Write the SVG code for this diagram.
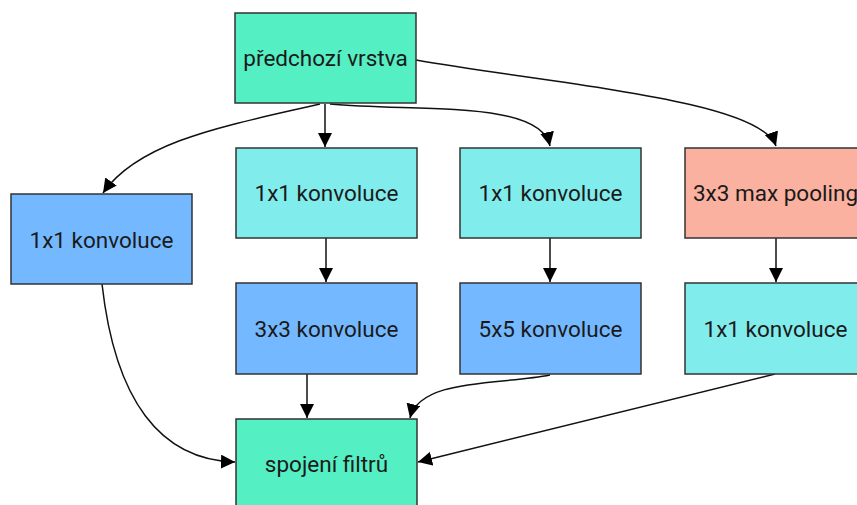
<svg xmlns="http://www.w3.org/2000/svg" width="857" height="505" viewBox="0 0 857 505">
  <style>
    .box { stroke: #333; stroke-width: 1.5; }
    .mint { fill: #55efc4; }
    .cyan { fill: #81ecec; }
    .blue { fill: #74b9ff; }
    .salmon { fill: #fab1a0; }
    .label { font-family: Roboto, "Liberation Sans", sans-serif; font-size: 22.5px; fill: #1a1a1a; text-anchor: middle; dominant-baseline: central; }
    .edge { fill: none; stroke: #111; stroke-width: 1.5; marker-end: url(#arrow); }
  </style>
  <defs>
    <marker id="arrow" viewBox="0 0 10 10" refX="10" refY="5" markerWidth="14" markerHeight="14" markerUnits="userSpaceOnUse" orient="auto">
      <path d="M0,0 L10,5 L0,10 z" fill="#000"/>
    </marker>
  </defs>
  <rect width="857" height="505" fill="#fff"/>

  <g id="edges">
    <path class="edge" d="M320,104 C230,125 140,140 103,193"/>
    <path class="edge" d="M325,104 L325,147"/>
    <path class="edge" d="M330,104 C420,112 540,100 550,146"/>
    <path class="edge" d="M416,60 C560,85 760,100 776,146"/>
    <path class="edge" d="M326,238 L326,282"/>
    <path class="edge" d="M550,238 L550,282"/>
    <path class="edge" d="M776,238 L776,282"/>
    <path class="edge" d="M307,374 L307,418"/>
    <path class="edge" d="M550,375 C500,385 420,378 410,418"/>
    <path class="edge" d="M775,374 L418,462"/>
    <path class="edge" d="M102,284 C115,400 160,460 235,462"/>
  </g>

  <g id="previous-layer">
    <rect class="box mint" x="235" y="13" width="181" height="90"/>
    <text class="label" x="325.5" y="58">předchozí vrstva</text>
  </g>
  <g id="conv1x1-a">
    <rect class="box blue" x="11" y="194" width="181" height="90"/>
    <text class="label" x="101.5" y="240">1x1 konvoluce</text>
  </g>
  <g id="conv1x1-b">
    <rect class="box cyan" x="236" y="148" width="181" height="90"/>
    <text class="label" x="326.5" y="193">1x1 konvoluce</text>
  </g>
  <g id="conv1x1-c">
    <rect class="box cyan" x="460" y="148" width="181" height="90"/>
    <text class="label" x="550.5" y="193">1x1 konvoluce</text>
  </g>
  <g id="maxpool">
    <rect class="box salmon" x="685" y="148" width="181" height="90"/>
    <text class="label" x="775.5" y="193">3x3 max pooling</text>
  </g>
  <g id="conv3x3">
    <rect class="box blue" x="236" y="283" width="181" height="91"/>
    <text class="label" x="326.5" y="329">3x3 konvoluce</text>
  </g>
  <g id="conv5x5">
    <rect class="box blue" x="460" y="283" width="181" height="91"/>
    <text class="label" x="550.5" y="329">5x5 konvoluce</text>
  </g>
  <g id="conv1x1-d">
    <rect class="box cyan" x="685" y="283" width="181" height="91"/>
    <text class="label" x="775.5" y="329">1x1 konvoluce</text>
  </g>
  <g id="concat">
    <rect class="box mint" x="236" y="419" width="181" height="90"/>
    <text class="label" x="326.5" y="464">spojení filtrů</text>
  </g>
</svg>
